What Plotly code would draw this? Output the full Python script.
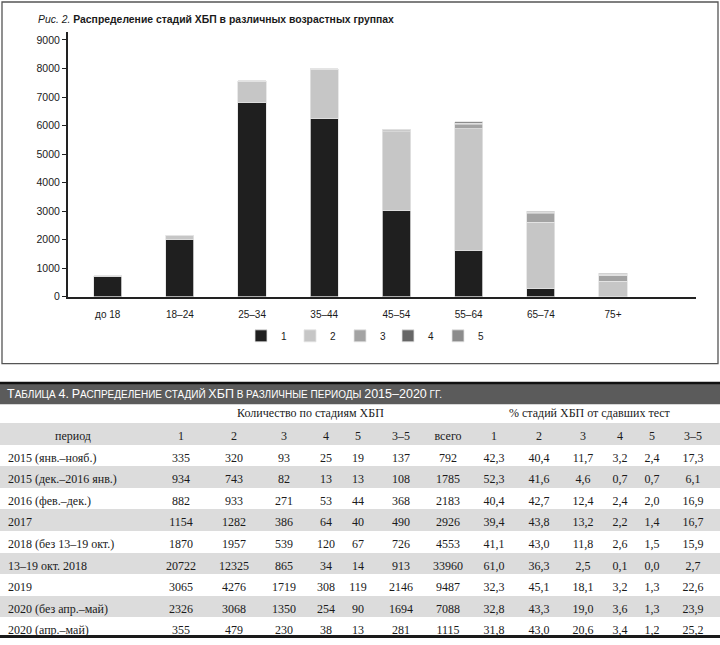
import plotly.graph_objects as go

# ---------------- chart data (Рис. 2) ----------------
age_groups = ["до 18", "18–24", "25–34", "35–44", "45–54", "55–64", "65–74", "75+"]
stage1 = [715, 2020, 6800, 6240, 3010, 1630, 280, 20]
stage2 = [15, 110, 730, 1735, 2770, 4260, 2330, 530]
stage3 = [0, 20, 20, 10, 30, 140, 300, 200]
stage4 = [0, 5, 15, 10, 40, 50, 50, 45]
stage5 = [0, 5, 10, 5, 20, 45, 30, 25]
stage_names = ["1", "2", "3", "4", "5"]
stage_colors = ["#1f1f1f", "#c6c6c6", "#a3a3a3", "#666666", "#8c8c8c"]
y_ticks = [0, 1000, 2000, 3000, 4000, 5000, 6000, 7000, 8000, 9000]

# ---------------- table data (Таблица 4) ----------------
periods = ["2015 (янв.–нояб.)", "2015 (дек.–2016 янв.)", "2016 (фев.–дек.)", "2017",
           "2018 (без 13–19 окт.)", "13–19 окт. 2018", "2019", "2020 (без апр.–май)",
           "2020 (апр.–май)"]
cnt1 = [335, 934, 882, 1154, 1870, 20722, 3065, 2326, 355]
cnt2 = [320, 743, 933, 1282, 1957, 12325, 4276, 3068, 479]
cnt3 = [93, 82, 271, 386, 539, 865, 1719, 1350, 230]
cnt4 = [25, 13, 53, 64, 120, 34, 308, 254, 38]
cnt5 = [19, 13, 44, 40, 67, 14, 119, 90, 13]
cnt35 = [137, 108, 368, 490, 726, 913, 2146, 1694, 281]
total = [792, 1785, 2183, 2926, 4553, 33960, 9487, 7088, 1115]
pct1 = [42.3, 52.3, 40.4, 39.4, 41.1, 61.0, 32.3, 32.8, 31.8]
pct2 = [40.4, 41.6, 42.7, 43.8, 43.0, 36.3, 45.1, 43.3, 43.0]
pct3 = [11.7, 4.6, 12.4, 13.2, 11.8, 2.5, 18.1, 19.0, 20.6]
pct4 = [3.2, 0.7, 2.4, 2.2, 2.6, 0.1, 3.2, 3.6, 3.4]
pct5 = [2.4, 0.7, 2.0, 1.4, 1.5, 0.0, 1.3, 1.3, 1.2]
pct35 = [17.3, 6.1, 16.9, 16.7, 15.9, 2.7, 22.6, 23.9, 25.2]
table_header = ["период", "1", "2", "3", "4", "5", "3–5", "всего",
                "1", "2", "3", "4", "5", "3–5"]

W, H = 720, 645


def px(x):
    return x / W


def py(y):
    return 1 - y / H


def pct_fmt(vals):
    return [f"{v:.1f}".replace(".", ",") for v in vals]


SANS = "Liberation Sans, Arial, sans-serif"
SERIF = "Liberation Serif, Times New Roman, serif"

fig = go.Figure()

stacks = [stage1, stage2, stage3, stage4, stage5]
legend_ids = ["legend", "legend2", "legend3", "legend4", "legend5"]
for vals, name, col, lid in zip(stacks, stage_names, stage_colors, legend_ids):
    fig.add_trace(go.Bar(
        x=age_groups, y=vals, name=name, legend=lid,
        marker=dict(color=col, line=dict(color="#e4e4e4", width=0.8)),
        hoverinfo="skip",
    ))

# ---------------- table ----------------
row_colors = ["#ffffff" if i % 2 == 0 else "#dcdcdc" for i in range(len(periods))]
columns = [periods, cnt1, cnt2, cnt3, cnt4, cnt5, cnt35, total,
           pct_fmt(pct1), pct_fmt(pct2), pct_fmt(pct3), pct_fmt(pct4),
           pct_fmt(pct5), pct_fmt(pct35)]
col_widths = [146, 70, 36, 64, 20, 44, 42, 52, 40, 50, 38, 36, 28, 54]
row_h = 21.6
fig.add_trace(go.Table(
    domain=dict(x=[0, 1], y=[py(643), py(427)]),
    columnwidth=col_widths,
    header=dict(values=table_header, fill_color="#dcdcdc", line=dict(width=0),
                align="center", height=row_h,
                font=dict(family=SERIF, size=12, color="#1a1a1a")),
    cells=dict(values=columns, fill_color=[row_colors] * len(columns),
               line=dict(width=0), align=["left"] + ["center"] * 13, height=row_h,
               font=dict(family=SERIF, size=12, color="#1a1a1a")),
))

shapes = [
    # chart frame
    dict(type="rect", xref="paper", yref="paper", x0=px(2), x1=px(718),
         y0=py(367), y1=py(2), line=dict(color="#555555", width=1.3)),
    # table title band
    dict(type="rect", xref="paper", yref="paper", x0=0, x1=1,
         y0=py(408), y1=py(387), fillcolor="#5b5b5b", line=dict(width=0)),
    dict(type="line", xref="paper", yref="paper", x0=0, x1=1,
         y0=py(386.5), y1=py(386.5), line=dict(color="#111111", width=2.5)),
    dict(type="line", xref="paper", yref="paper", x0=0, x1=1,
         y0=py(642.5), y1=py(642.5), line=dict(color="#1a1a1a", width=3)),
]

sc = "<span style='font-size:12.5px'>"
band_text = (f"{sc}Т</span>АБЛИЦА {sc}4.</span> {sc}Р</span>АСПРЕДЕЛЕНИЕ СТАДИЙ "
             f"{sc}ХБП</span> В РАЗЛИЧНЫЕ ПЕРИОДЫ {sc}2015–2020</span> ГГ.")

annotations = [
    dict(text="<i>Рис. 2.</i> <b>Распределение стадий ХБП в различных возрастных группах</b>",
         x=px(36), y=py(20), xref="paper", yref="paper", xanchor="left",
         yanchor="middle", showarrow=False, font=dict(family=SANS, size=10.4, color="#1a1a1a")),
    dict(text=band_text, x=px(5), y=py(397.5), xref="paper", yref="paper",
         xanchor="left", yanchor="middle", showarrow=False,
         font=dict(family=SANS, size=10, color="#ffffff")),
    dict(text="Количество по стадиям ХБП", x=px(310), y=py(417), xref="paper",
         yref="paper", xanchor="center", yanchor="middle", showarrow=False,
         font=dict(family=SERIF, size=12, color="#1a1a1a")),
    dict(text="% стадий ХБП от сдавших тест", x=px(590), y=py(417), xref="paper",
         yref="paper", xanchor="center", yanchor="middle", showarrow=False,
         font=dict(family=SERIF, size=12, color="#1a1a1a")),
]

legend_centers = [261, 310, 360, 408, 458]
legend_layout = {}
for lid, c in zip(legend_ids, legend_centers):
    legend_layout[lid] = dict(
        x=px(c - 20), y=py(339), xanchor="left", yanchor="middle",
        orientation="h", bgcolor="rgba(0,0,0,0)", borderwidth=0,
        font=dict(family=SANS, size=10, color="#1a1a1a"),
    )

fig.update_layout(
    width=W, height=H, autosize=False,
    margin=dict(l=0, r=0, t=0, b=0),
    paper_bgcolor="white", plot_bgcolor="white",
    barmode="stack", bargap=0.61,
    showlegend=True,
    font=dict(family=SANS, size=10, color="#1a1a1a"),
    xaxis=dict(domain=[px(68), px(696)], type="category", range=[-0.55, 8.15],
               showline=True, linecolor="#222222", linewidth=2, showgrid=False,
               zeroline=False, ticks="outside", ticklen=7,
               tickcolor="rgba(0,0,0,0)", tickfont=dict(size=10), fixedrange=True),
    yaxis=dict(domain=[py(299.5), py(32)], range=[0, 9290], tickmode="array",
               tickvals=y_ticks, ticktext=[str(v) for v in y_ticks],
               showline=True, linecolor="#222222", linewidth=2, showgrid=False,
               zeroline=False, ticks="outside", ticklen=4, tickwidth=1,
               tickcolor="#222222", tickfont=dict(size=10.5), fixedrange=True),
    shapes=shapes,
    annotations=annotations,
    **legend_layout,
)

fig.write_html("out.html", config={"displayModeBar": False, "staticPlot": True},
               post_script="document.body.style.margin='0px';")
